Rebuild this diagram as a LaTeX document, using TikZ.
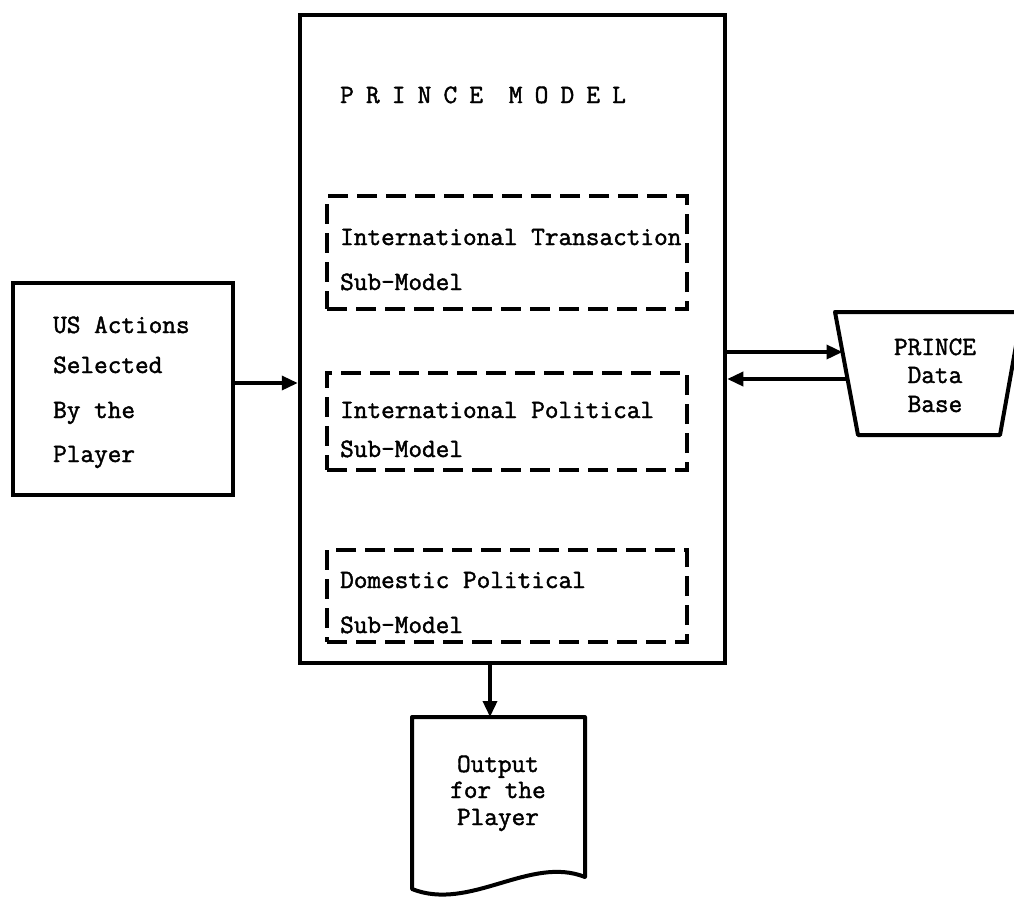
\documentclass[tikz,border=0pt]{standalone}
\usepackage{fontspec}
\newfontfamily\tw[FakeBold=1.6]{Latin Modern Mono}
\newfontfamily\twtitle[FakeBold=1.6,LetterSpace=46]{Latin Modern Mono}
\usetikzlibrary{arrows.meta}
\begin{document}
\begin{tikzpicture}[x=1pt,y=-1pt,
  solidbox/.style={draw,line width=4pt,inner sep=0pt},
  dashbox/.style={draw,line width=3.5pt,dash pattern=on 20pt off 9pt,inner sep=0pt},
  txt/.style={anchor=base west,inner sep=0pt,font=\tw\fontsize{26.5}{30}\selectfont},
  ctxt/.style={anchor=base,inner sep=0pt,font=\tw\fontsize{26.5}{30}\selectfont},
  arr/.style={line width=3.5pt,-{Triangle[length=16pt,width=14pt]}}]
\useasboundingbox (0,0) rectangle (1014,898);

% main box
\node[solidbox,line width=4.5pt,minimum width=425pt,minimum height=648pt] (main) at (512.5,339) {};
\node[anchor=base west,inner sep=0pt,font=\twtitle\fontsize{26.5}{30}\selectfont] (title) at (340,103) {PRINCE MODEL};

% sub-model boxes
\node[dashbox,minimum width=360pt,minimum height=113pt] (sub1) at (507,252.5) {};
\node[txt] (sub1a) at (340,245) {International Transaction};
\node[txt] (sub1b) at (340,290) {Sub-Model};

\node[dashbox,minimum width=360pt,minimum height=97pt] (sub2) at (507,421.5) {};
\node[txt] (sub2a) at (340,418) {International Political};
\node[txt] (sub2b) at (340,457) {Sub-Model};

\node[dashbox,minimum width=360pt,minimum height=92pt] (sub3) at (507,596) {};
\node[txt] (sub3a) at (340,588) {Domestic Political};
\node[txt] (sub3b) at (340,633) {Sub-Model};

% left box
\node[solidbox,minimum width=220pt,minimum height=212pt] (us) at (123,389) {};
\node[txt] (us1) at (53,333) {US Actions};
\node[txt] (us2) at (53,373) {Selected};
\node[txt] (us3) at (53,418) {By the};
\node[txt] (us4) at (53,462) {Player};
\coordinate (usout) at (123,383);
\draw[arr] (us.east |- usout) -- (main.west |- usout);

% data base
\draw[line width=4pt,line join=round] (835,312) -- (1022,312) -- (1000,435) -- (858,435) -- cycle;
\node[ctxt] (db1) at (935,355) {PRINCE};
\node[ctxt] (db2) at (935,383) {Data};
\node[ctxt] (db3) at (935,412) {Base};
\coordinate (dbin) at (842.5,352);
\coordinate (dbout) at (847.5,379);
\draw[arr] (main.east |- dbin) -- (dbin);
\draw[arr] (dbout) -- (main.east |- dbout);

% output document
\draw[line width=4pt,line join=round] (412,717) -- (585,717) -- (585,877)
  .. controls (530,855) and (470,912) .. (412,889) -- cycle;
\node[ctxt] (out1) at (498,772) {Output};
\node[ctxt] (out2) at (498,798) {for the};
\node[ctxt] (out3) at (498,825) {Player};
\coordinate (outtop) at (490,717);
\draw[arr] (main.south -| outtop) -- (outtop);
\end{tikzpicture}
\end{document}
